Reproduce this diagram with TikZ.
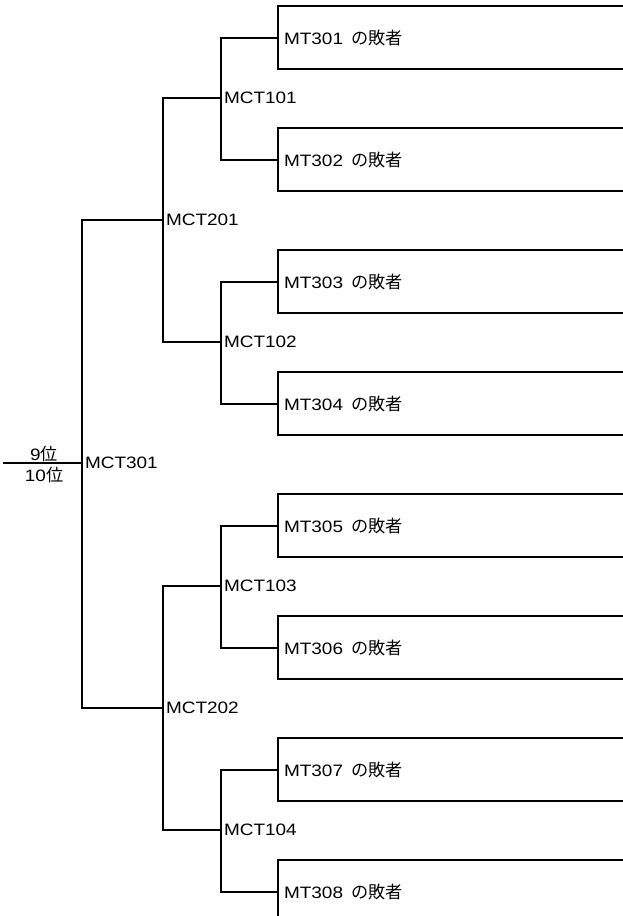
\documentclass[tikz,border=0pt]{standalone}
\usepackage{fontspec}
\setmainfont{Liberation Sans}[FakeStretch=1.15]
\newfontfamily\cjk{Noto Sans CJK JP}[Scale=1.04]
\begin{document}
\begin{tikzpicture}[x=1pt,y=-1pt,
  line width=2pt,
  every node/.style={font=\fontsize{16.5}{18}\selectfont},
  loserbox/.style={anchor=north west, inner xsep=5pt, inner ysep=0pt,
    text width=335pt, align=left, minimum height=61pt},
  matchlabel/.style={anchor=west, inner xsep=2pt, inner ysep=0pt},
  rankline/.style={inner sep=1pt}]
\useasboundingbox (0,0) rectangle (623,916);
\clip (0,0) rectangle (623,916);
% loser boxes
\foreach \i/\t in {1/301,2/302,3/303,4/304,5/305,6/306,7/307,8/308}{
  \node[loserbox] (b\i) at (278,{6+122*(\i-1)}) {MT\t\hspace{3pt} {\cjk の敗者}};
  \draw (b\i.north east) -- (b\i.north west) -- (b\i.south west) -- (b\i.south east);
}
% match labels
\node[matchlabel] (m101) at (221,98)  {MCT101};
\node[matchlabel] (m102) at (221,342) {MCT102};
\node[matchlabel] (m103) at (221,586) {MCT103};
\node[matchlabel] (m104) at (221,830) {MCT104};
\node[matchlabel] (m201) at (163,220) {MCT201};
\node[matchlabel] (m202) at (163,708) {MCT202};
\node[matchlabel] (m301) at (82,463)  {MCT301};
\coordinate (start) at (3,463);
% brackets
\draw (b1.west) -| (m101.west) |- (b2.west);
\draw (b3.west) -| (m102.west) |- (b4.west);
\draw (b5.west) -| (m103.west) |- (b6.west);
\draw (b7.west) -| (m104.west) |- (b8.west);
\draw (m101.west) -| (m201.west) |- (m102.west);
\draw (m103.west) -| (m202.west) |- (m104.west);
\draw (m201.west) -| (m301.west) |- (m202.west);
\draw (start) -- (m301.west) coordinate[pos=0.52] (mid);
\node[rankline, anchor=south] (r9) at ([yshift=-0.5pt]mid) {9{\cjk 位}};
\node[rankline, anchor=north] (r10) at ([yshift=-2pt]mid) {10{\cjk 位}};
\end{tikzpicture}
\end{document}
